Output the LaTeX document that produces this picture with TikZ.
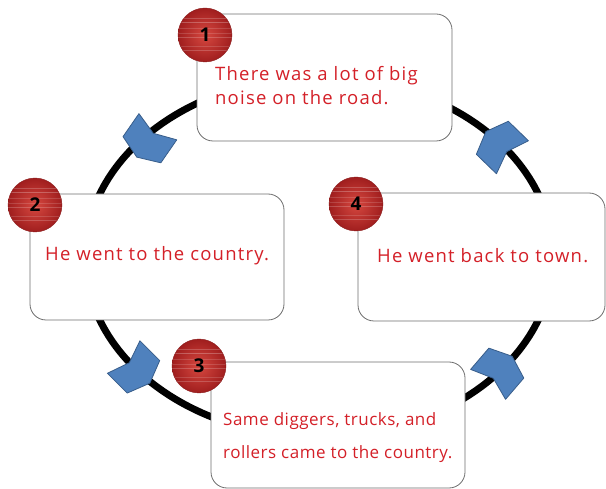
\documentclass[tikz,border=0pt]{standalone}
\usepackage{fontspec}
\setmainfont{Open Sans}
\newfontfamily\boxfont[LetterSpace=6.5]{Open Sans}
\newfontfamily\smallboxfont[LetterSpace=3]{Open Sans}
\usetikzlibrary{calc}
\definecolor{txtred}{RGB}{212,32,40}
\definecolor{cirA}{RGB}{214,72,64}
\definecolor{cirB}{RGB}{160,30,30}
\definecolor{chevfill}{RGB}{79,129,189}
\definecolor{chevdraw}{RGB}{56,93,138}
\definecolor{boxline}{RGB}{110,110,110}
\newcommand\chevat[5]{%
  \begin{scope}[shift={(#1,#2)}]
  \begin{scope}[x={#3},y={#4}]
  \draw[chevst] (0,0) -- (-8,23) -- (20,23) -- (29,0) -- (20,-23) -- (-8,-23) -- cycle;
  \end{scope}\end{scope}}
\tikzset{
  chevst/.style={fill=chevfill, draw=chevdraw, line width=0.8pt, line join=round},
  boxst/.style={draw=boxline, fill=white, line width=0.8pt, rounded corners=16pt, inner sep=0pt},
  circst/.style={circle, minimum size=54pt, inner sep=0pt, shading=radial, inner color=cirA, outer color=cirB,
    draw=cirB!85!black, line width=0.4pt, text=black, font=\bfseries\fontsize{19}{19}\selectfont,
    path picture={\foreach \d/\o in {-15/0.2,-11/0.15,-2/0.2,2/0.15,7/0.15,13/0.25,17/0.2}{
      \draw[white, opacity=\o, line width=0.5pt] ([yshift=\d pt]path picture bounding box.west) -- ([yshift=\d pt]path picture bounding box.east);}}},
  txtst/.style={text=txtred, inner sep=0pt, align=left, anchor=base west}
}
\begin{document}
\begin{tikzpicture}[x=1pt,y=-1pt]
\useasboundingbox (0,0) rectangle (606,489);
\draw[line width=7pt] (319,257) ellipse [x radius=234pt, y radius=180pt];
\chevat{153.3}{133.3}{(-0.569pt,-0.822pt)}{(0.822pt,-0.569pt)}{}
\chevat{506.7}{151.7}{(-0.718pt,0.695pt)}{(-0.695pt,-0.718pt)}{}
\chevat{129.3}{362.7}{(0.707pt,-0.707pt)}{(0.707pt,0.707pt)}{}
\chevat{493.3}{378.3}{(0.651pt,0.759pt)}{(-0.759pt,0.651pt)}{}
\node[boxst, minimum width=255pt, minimum height=127pt] (b1) at (324.5,77.5) {};
\node[boxst, minimum width=254pt, minimum height=126pt] (b2) at (157,257) {};
\node[boxst, minimum width=247pt, minimum height=128pt] (b4) at (481.5,257) {};
\node[boxst, minimum width=254pt, minimum height=126pt] (b3) at (338,425) {};
\node[txtst, font=\boxfont\fontsize{18.5}{24}\selectfont] (t1) at (215,105) {There was a lot of big\\noise on the road.};
\node[txtst, font=\boxfont\fontsize{18.5}{24}\selectfont] (t2) at (45,261) {He went to the country.};
\node[txtst, font=\boxfont\fontsize{18.5}{24}\selectfont] (t4) at (377,263) {He went back to town.};
\node[txtst, font=\smallboxfont\fontsize{17}{33}\selectfont] (t3) at (223,459) {Same diggers, trucks, and\\rollers came to the country.};
\node[circst] (n1) at (205,35) {1};
\node[circst] (n2) at (35,205) {2};
\node[circst] (n3) at (199,366) {3};
\node[circst] (n4) at (356,204) {4};
\end{tikzpicture}
\end{document}
